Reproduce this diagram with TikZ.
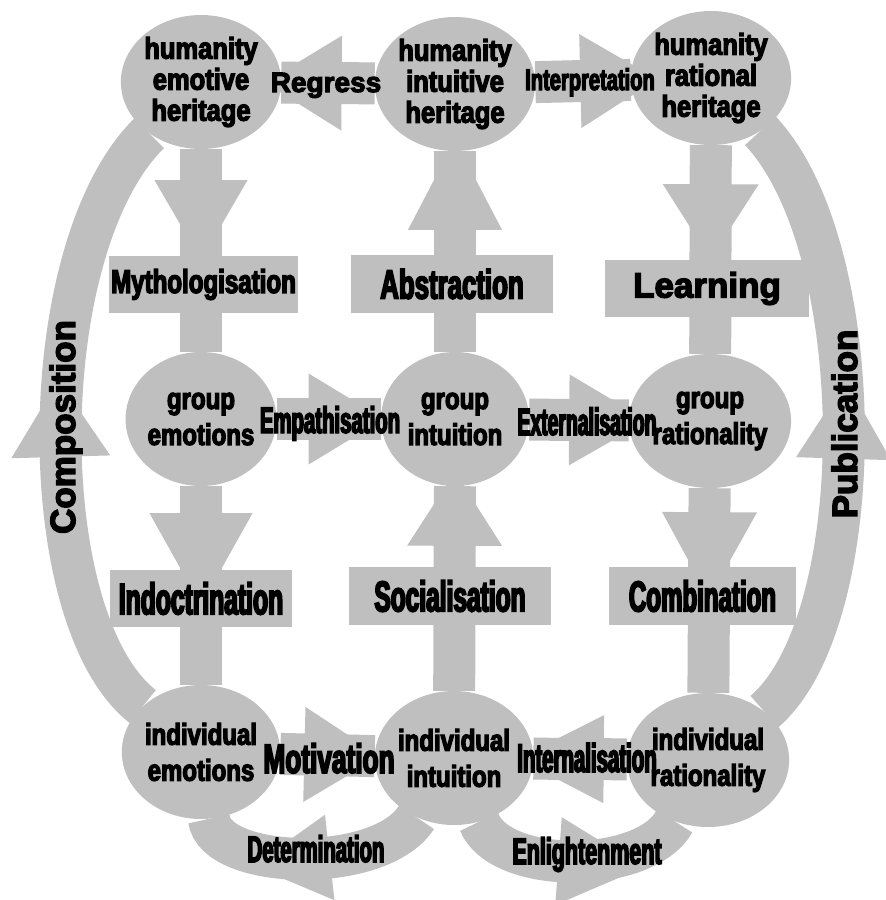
\documentclass[tikz,border=0pt]{standalone}
\usepackage{fontspec}
\usepackage{tikz}
\usetikzlibrary{positioning,shapes.geometric,decorations.markings,backgrounds}
\newfontfamily\heavy{Liberation Sans}[FakeBold=4]
\definecolor{fog}{rgb}{0.75,0.75,0.75}

\begin{document}
\begin{tikzpicture}[x=1pt,y=-1pt,
state/.style={ellipse,fill=fog,minimum width=148pt,minimum height=134pt,inner sep=0pt,align=center,
  font=\heavy\bfseries\fontsize{30}{36}\selectfont\addfontfeatures{FakeStretch=0.8}},
heritage/.style={state,font=\heavy\bfseries\fontsize{30}{31}\selectfont\addfontfeatures{FakeStretch=0.85}},
band/.style={draw=fog,line width=42pt},
head/.style n args={3}{postaction={decorate},decoration={markings,
  mark=at position #1 with {\fill[fog] (0,-#2/2) -- (#3,0) -- (0,#2/2) -- cycle;}}},
lbl/.style 2 args={font=\heavy\bfseries\fontsize{#1}{#1}\selectfont\addfontfeatures{FakeStretch=#2}},
tag/.style 2 args={lbl={#1}{#2},inner sep=0pt,anchor=base},
box/.style={fill=fog,inner sep=0pt}]

\useasboundingbox (0,0) rectangle (886,900);

% states
\node[heritage] (he) at (201,82) {humanity\\emotive\\heritage};
\node[heritage] (hi) at (455,84) {humanity\\intuitive\\heritage};
\node[heritage] (hr) at (711,78) {humanity\\rational\\heritage};
\node[state] (ge) at (201,419) {group\\emotions};
\node[state] (gi) at (455,419) {group\\intuition};
\node[state] (gr) at (710,421) {group\\rationality};
\node[state] (ie) at (201,752) {individual\\emotions};
\node[state] (ii) at (454,758) {individual\\intuition};
\node[state] (ir) at (708,760) {individual\\rationality};

% transitions
\begin{scope}[on background layer]
\draw[band,head={31pt}{93}{80}] (he) -- (ge);
\draw[band,head={27pt}{103}{92}] (ge) -- (ie);
\draw[band,head={122pt}{94}{90}] (gi) -- (hi);
\draw[band,head={145pt}{95}{74}] (ii) -- (gi);
\draw[band,head={39pt}{96}{75}] (hr) -- (gr);
\draw[band,head={24pt}{95}{86}] (gr) -- (ir);

\draw[band,head={33pt}{95}{77}] (hi) -- (he);
\draw[band,head={45pt}{94}{77}] (hi) -- (hr);
\draw[band,head={32pt}{91}{75}] (ge) -- (gi);
\draw[band,head={40pt}{91}{78}] (gi) -- (gr);
\draw[band,head={24pt}{95}{76}] (ie) -- (ii);
\draw[band,head={23pt}{88}{86}] (ir) -- (ii);

\draw[band,head={0.42}{86}{77}] (ii) .. controls (380,875) and (215,870) .. (ie);
\draw[band,head={0.42}{88}{85}] (ii) .. controls (500,875) and (645,875) .. (ir);
\draw[band,head={0.44}{99}{77}] (ie) .. controls (32,620) and (32,249) .. (he);
\draw[band,head={0.44}{95}{78}] (ir) .. controls (871,620) and (871,249) .. (hr);
\end{scope}

% boxes on the vertical transitions
\node[box,lbl={33}{0.73},minimum width=189pt,minimum height=57pt] (myth) at (203.5,284.5) {Mythologisation};
\node[box,lbl={41}{0.63},minimum width=202pt,minimum height=58pt] (abst) at (452,284) {Abstraction};
\node[box,lbl={35}{1},minimum width=204pt,minimum height=57pt] (lear) at (707,288.5) {Learning};
\node[box,lbl={44}{0.56},minimum width=182pt,minimum height=57pt] (indo) at (201,598.5) {Indoctrination};
\node[box,lbl={43}{0.57},minimum width=202pt,minimum height=58pt] (soci) at (450,596) {Socialisation};
\node[box,lbl={43}{0.56},minimum width=187pt,minimum height=58pt] (comb) at (702.5,596) {Combination};

% labels on the horizontal and curved transitions
\node[tag={28}{1}] (regr) at (326,92) {Regress};
\node[tag={30}{0.67}] (intp) at (590,90) {Interpretation};
\node[tag={37}{0.55}] (empa) at (330,433) {Empathisation};
\node[tag={38}{0.51}] (extn) at (587,435) {Externalisation};
\node[tag={41}{0.64}] (moti) at (329,773) {Motivation};
\node[tag={40}{0.51}] (intn) at (587,772) {Internalisation};
\node[tag={37}{0.55}] (dete) at (316,862) {Determination};
\node[tag={37}{0.58}] (enli) at (587,864) {Enlightenment};
\node[tag={35}{1},rotate=90] (comp) at (75,427) {Composition};
\node[tag={35}{1},rotate=90] (publ) at (857,424) {Publication};
\end{tikzpicture}
\end{document}
